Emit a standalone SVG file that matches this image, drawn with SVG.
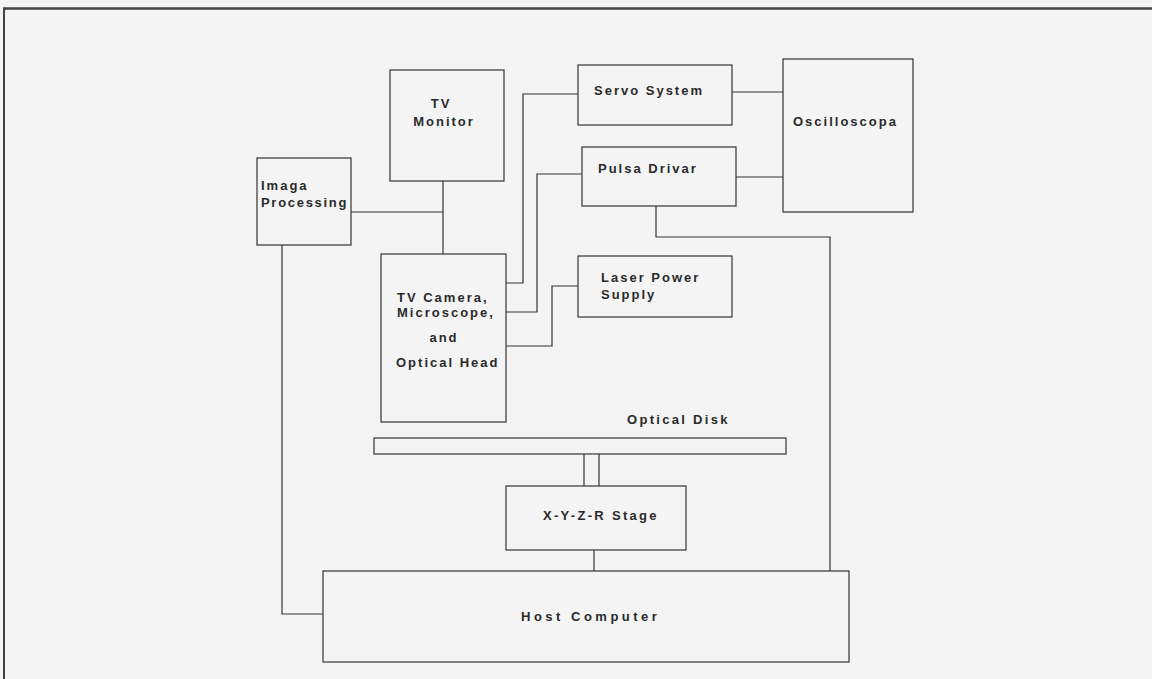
<svg xmlns="http://www.w3.org/2000/svg" width="1152" height="679" viewBox="0 0 1152 679">
<style>
.box{fill:none;stroke:#333;stroke-width:1.2}
.ln{fill:none;stroke:#333;stroke-width:1.2}
text{font-family:"Liberation Sans",Arial,sans-serif;font-size:13px;font-weight:bold;fill:#2a2a2a;letter-spacing:2px}
.c{text-anchor:middle}
</style>
<rect width="1152" height="679" fill="#f4f4f4"/>
<g id="frame">
<line x1="3" y1="8.5" x2="1152" y2="8.5" stroke="#444" stroke-width="2.5"/>
<line x1="4" y1="8" x2="4" y2="679" stroke="#444" stroke-width="2"/>
</g>
<g id="connectors">
<path class="ln" d="M351,212 H443"/>
<path class="ln" d="M443,181 V254"/>
<path class="ln" d="M506,283 H523 V94 H578"/>
<path class="ln" d="M506,312 H537 V174 H582"/>
<path class="ln" d="M506,346 H552 V286 H578"/>
<path class="ln" d="M732,92 H783"/>
<path class="ln" d="M736,177 H783"/>
<path class="ln" d="M656,206 V237 H830 V571"/>
<path class="ln" d="M282,245 V614 H323"/>
<path class="ln" d="M584,454 V486"/>
<path class="ln" d="M599,454 V486"/>
<path class="ln" d="M594,550 V571"/>
</g>
<g id="tv-monitor">
<rect class="box" x="390" y="70" width="114" height="111"/>
<text class="c" x="441" y="108">TV</text>
<text class="c" x="444" y="126">Monitor</text>
</g>
<g id="image-processing">
<rect class="box" x="257" y="158" width="94" height="87"/>
<text x="261" y="190">Imaga</text>
<text x="261" y="207" style="letter-spacing:1.7px">Processing</text>
</g>
<g id="servo-system">
<rect class="box" x="578" y="65" width="154" height="60"/>
<text x="594" y="95">Servo System</text>
</g>
<g id="oscilloscope">
<rect class="box" x="783" y="59" width="130" height="153"/>
<text x="793" y="126">Oscilloscopa</text>
</g>
<g id="pulse-driver">
<rect class="box" x="582" y="147" width="154" height="59"/>
<text x="598" y="173">Pulsa Drivar</text>
</g>
<g id="laser-power-supply">
<rect class="box" x="578" y="256" width="154" height="61"/>
<text x="601" y="282">Laser Power</text>
<text x="601" y="299">Supply</text>
</g>
<g id="tv-camera">
<rect class="box" x="381" y="254" width="125" height="168"/>
<text x="397" y="302">TV Camera,</text>
<text x="397" y="317">Microscope,</text>
<text class="c" x="444" y="342">and</text>
<text x="396" y="367">Optical Head</text>
</g>
<g id="optical-disk">
<text x="627" y="424" style="letter-spacing:2.3px">Optical Disk</text>
<rect class="box" x="374" y="438" width="412" height="16"/>
</g>
<g id="xyzr-stage">
<rect class="box" x="506" y="486" width="180" height="64"/>
<text x="543" y="520" style="letter-spacing:2.3px">X-Y-Z-R Stage</text>
</g>
<g id="host-computer">
<rect class="box" x="323" y="571" width="526" height="91"/>
<text x="521" y="621" style="letter-spacing:3.5px">Host Computer</text>
</g>
</svg>
